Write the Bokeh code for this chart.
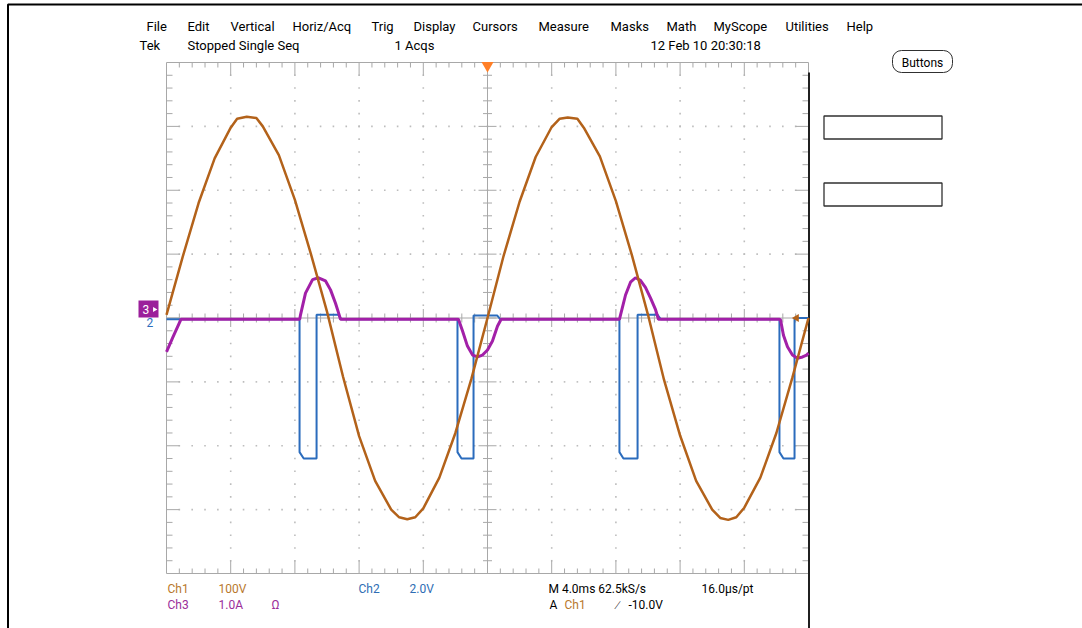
import numpy as np
from bokeh.plotting import figure
from bokeh.models import Range1d
from bokeh.core.properties import value
from bokeh.embed import file_html
from bokeh.resources import INLINE

# ---------------- data (time in ms, amplitude in divisions) ----------------
ch1_t = [-20, -19, -18, -17, -16, -15.6, -15, -14.4, -14, -13, -12, -11, -10,
         -9, -8, -7, -6, -5.5, -5, -4.5, -4, -3, -2, -1, 0,
         1, 2, 3, 4, 4.5, 5, 5.6, 6, 7, 8, 9, 10,
         11, 12, 13, 14, 14.5, 15, 15.5, 16, 17, 18, 19, 20]
ch1_div = [0.05, 0.95, 1.8, 2.5, 2.98, 3.12, 3.15, 3.13, 3.0, 2.55, 1.85, 1.0, 0.1,
           -0.92, -1.85, -2.55, -3.0, -3.12, -3.15, -3.12, -2.98, -2.5, -1.8, -0.95, 0.0,
           0.97, 1.82, 2.52, 2.99, 3.12, 3.14, 3.12, 2.98, 2.53, 1.83, 0.98, 0.05,
           -0.97, -1.84, -2.55, -3.0, -3.13, -3.16, -3.12, -2.97, -2.5, -1.8, -0.93, 0.0]

ch2_t = [-20, -11.71, -11.71, -11.45, -10.65, -10.65, -9.3, -9.1,
         -1.87, -1.87, -1.62, -0.87, -0.87, 0.6, 0.8,
         8.22, 8.22, 8.47, 9.35, 9.35, 10.6, 10.8,
         18.19, 18.19, 18.44, 19.13, 19.13, 20]
ch2_div = [-0.02, -0.02, -2.1, -2.2, -2.2, 0.05, 0.05, -0.02,
           -0.02, -2.1, -2.2, -2.2, 0.04, 0.04, -0.02,
           -0.02, -2.1, -2.2, -2.2, 0.05, 0.05, -0.02,
           -0.02, -2.1, -2.2, -2.2, 0.0, 0.0]

ch3_t = [-20, -19.6, -19.1, -11.7, -11.65, -11.34, -10.9, -10.53, -10.09, -9.78,
         -9.47, -9.28, -9.16, -1.81, -1.56, -1.25, -0.93, -0.62, -0.31, 0.0,
         0.31, 0.62, 0.85, 8.22, 8.29, 8.6, 8.91, 9.22, 9.53, 9.84, 10.16,
         10.47, 10.65, 18.19, 18.26, 18.44, 18.69, 19.0, 19.31, 19.63, 19.88, 20]
ch3_div = [-0.53, -0.3, -0.02, -0.02, 0.05, 0.39, 0.6, 0.63, 0.58, 0.44,
           0.23, 0.08, -0.02, -0.02, -0.2, -0.44, -0.58, -0.61, -0.58, -0.5,
           -0.36, -0.13, -0.02, -0.02, 0.05, 0.36, 0.56, 0.63, 0.59, 0.48, 0.31,
           0.13, -0.02, -0.02, -0.03, -0.27, -0.45, -0.58, -0.63, -0.61, -0.58, -0.55]

menu_items = ["File", "Edit", "Vertical", "Horiz/Acq", "Trig", "Display", "Cursors",
              "Measure", "Masks", "Math", "MyScope", "Utilities", "Help"]
menu_px = [146, 187, 230, 292, 371, 413, 472, 538, 610, 666, 713, 785, 846]

# ---------------- layout ----------------
W, H = 1082, 628
PX = 16.05      # pixels per ms
PY = 63.875     # pixels per division
CX, CY = 487.0, 317.5
X0, X1 = -CX / PX, (W - CX) / PX
YT, YB = CY / PY, -(H - CY) / PY


def tx(px):
    return (px - CX) / PX


def ty(py):
    return (CY - py) / PY


FONT = value("Roboto")

p = figure(width=W, height=H, x_range=Range1d(X0, X1), y_range=Range1d(YB, YT),
           output_backend="svg", toolbar_location=None,
           x_axis_type=None, y_axis_type=None, min_border=0)
p.grid.visible = False
p.outline_line_color = None
p.background_fill_color = "white"
p.border_fill_color = "white"

# outer border
p.line([tx(7.5), tx(7.5), tx(1082)], [ty(640), ty(4), ty(4)], line_color="black", line_width=2)

# ---------------- graticule ----------------
grid_col = "#a8a8a8"
dot_col = "#bdbdbd"
dx, dy = [], []
for xv in [-16, -12, -8, -4, 4, 8, 12, 16]:
    for yv in np.arange(-3.8, 3.81, 0.2):
        dx.append(xv); dy.append(yv)
for yv in [-3, -2, -1, 1, 2, 3]:
    for xv in np.arange(-19.2, 19.21, 0.8):
        dx.append(xv); dy.append(yv)
p.scatter(dx, dy, marker="square", size=1.6, fill_color=dot_col, line_color=None)

p.quad(left=-20, right=20, bottom=-4, top=4, fill_color=None, line_color=grid_col, line_width=1)
p.segment(x0=[-20, 0], y0=[0, -4], x1=[20, 0], y1=[0, 4], line_color=grid_col, line_width=1)

sx0, sy0, sx1, sy1 = [], [], [], []
for yv in np.arange(-3.8, 3.81, 0.2):
    major = abs(yv - round(yv)) < 1e-6
    hl = (9 if major else 4.5) / PX
    sx0.append(-hl); sx1.append(hl); sy0.append(yv); sy1.append(yv)
    el = (13 if major else 6) / PX
    sx0 += [-20, 20]; sx1 += [-20 + el, 20 - el]; sy0 += [yv, yv]; sy1 += [yv, yv]
for xv in np.arange(-19.2, 19.21, 0.8):
    major = abs(xv / 4 - round(xv / 4)) < 1e-6
    hl = (9 if major else 4.5) / PY
    sx0.append(xv); sx1.append(xv); sy0.append(-hl); sy1.append(hl)
    el = (13 if major else 5) / PY
    sx0 += [xv, xv]; sx1 += [xv, xv]; sy0 += [4, -4]; sy1 += [4 - el, -4 + el]
p.segment(x0=sx0, y0=sy0, x1=sx1, y1=sy1, line_color=grid_col, line_width=1)

p.line([20 + 0.5 / PX, 20 + 0.5 / PX], [ty(72), ty(640)], line_color="#202020", line_width=2)

# ---------------- traces ----------------
C1, C2, C3 = "#b3621a", "#2b6cbd", "#a220a8"
p.line(ch2_t, ch2_div, line_color=C2, line_width=2)
p.line(ch3_t, ch3_div, line_color=C3, line_width=3)
p.line(ch1_t, ch1_div, line_color=C1, line_width=2.5)

p.scatter([0], [4 - 3 / PY], marker="inverted_triangle", size=12, fill_color="#ff7f27", line_color=None)
p.scatter([tx(796)], [0.0], marker="triangle", angle=np.pi / 2, size=8, fill_color=C1, line_color=None)

p.quad(left=tx(138), right=tx(158), top=ty(300), bottom=ty(317), fill_color="#9b1f9b", line_color=None)
p.text([tx(142)], [ty(308.5)], text=["3"], text_color="white", text_font=FONT,
       text_font_size="12px", text_baseline="middle", text_align="left")
p.scatter([tx(154)], [ty(309)], marker="triangle", angle=-np.pi / 2, size=5, fill_color="white", line_color=None)
p.text([tx(146)], [ty(322)], text=["2"], text_color=C2, text_font=FONT,
       text_font_size="12px", text_baseline="middle", text_align="left")


def put(px, py, s, color="black", size="13px"):
    p.text([tx(px)], [ty(py)], text=[s], text_color=color, text_font=FONT,
           text_font_size=size, text_baseline="middle", text_align="left")


for s, xpx in zip(menu_items, menu_px):
    put(xpx, 26, s)
put(139, 45, "Tek")
put(187, 45, "Stopped  Single Seq")
put(394, 45, "1 Acqs")
put(650, 45, "12 Feb 10 20:30:18")

TC1, TC2, TC3 = "#b8782c", "#2e6db4", "#9a2d9a"
put(167, 588, "Ch1", TC1, "12px")
put(218, 588, "100V", TC1, "12px")
put(358, 588, "Ch2", TC2, "12px")
put(409, 588, "2.0V", TC2, "12px")
put(548, 588, "M 4.0ms 62.5kS/s", "black", "12px")
put(701, 588, "16.0\u00b5s/pt", "black", "12px")
put(167, 604, "Ch3", TC3, "12px")
put(218, 604, "1.0A", TC3, "12px")
put(271, 604, "\u03a9", TC3, "12px")
put(549, 604, "A", "black", "12px")
put(564, 604, "Ch1", TC1, "12px")
put(616, 604, "\u2215", "black", "12px")
put(628, 604, "-10.0V", "black", "12px")

p.quad(left=tx(892), right=tx(952), top=ty(50), bottom=ty(72), fill_color="white",
       line_color="#303030", line_width=1, border_radius=9)
p.text([tx(922)], [ty(62)], text=["Buttons"], text_color="black", text_font=FONT,
       text_font_size="12px", text_baseline="middle", text_align="center")
p.quad(left=[tx(823.5), tx(823.5)], right=[tx(941.5), tx(941.5)],
       top=[ty(115.5), ty(182.5)], bottom=[ty(138.5), ty(205.5)],
       fill_color="white", line_color="#303030", line_width=1.3)

open("out.html", "w").write(file_html(p, INLINE))
